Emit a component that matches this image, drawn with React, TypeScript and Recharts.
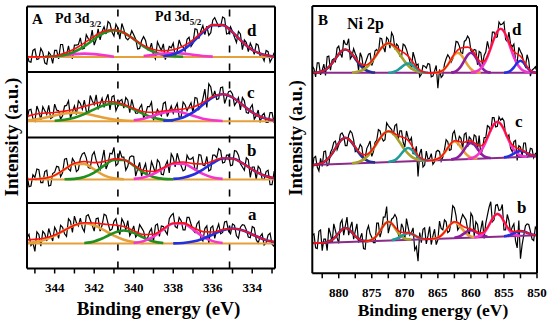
import React from 'react';
import { LineChart, Line, XAxis, YAxis, ReferenceLine } from 'recharts';

const FONT = '"Liberation Serif", "Times New Roman", serif';

// ---------------- Panel A : Pd 3d ----------------
const A_DOMAIN = [332.85, 345.4];
const A_TICKS = [345, 344, 343, 342, 341, 340, 339, 338, 337, 336, 335, 334, 333];
const A_RAW_FROM = 345.4;
const A_RAW_STEP = -0.2;
const A_FIT_FROM = 345.5;
const A_FIT_STEP = -0.5;
const A_DASHED = [340.8, 335.15];
const A_BASE_X = [345.4, 332.85];
const A_DIVIDERS = [1, 2, 3];

// subpanel d (offset 3)
const A_D_RAW = [.28,.15,.35,.20,.30,.12,.26,.33,.20,.42,.26,.23,.41,.42,.35,.57,.48,.41,.66,.62,.58,.74,.55,.67,.74,.52,.53,.57,.35,.48,.48,.34,.26,.46,.33,.19,.39,.44,.32,.40,.32,.53,.44,.65,.63,.57,.56,.79,.76,.70,.82,.59,.62,.45,.58,.49,.31,.37,.43,.24,.17,.31,.21,.32];
const A_D_RAW_MID = [.16,.33,.19,.36,.14,.30,.13,.33,.42,.24,.40,.21,.41,.52,.36,.51,.64,.50,.49,.69,.77,.61,.73,.50,.65,.49,.63,.50,.36,.54,.34,.44,.20,.39,.43,.28,.37,.24,.49,.38,.50,.39,.66,.51,.71,.70,.60,.83,.69,.84,.58,.69,.53,.62,.34,.45,.44,.27,.41,.24,.33,.15,.29];
const A_D_BASE = [0.23, 0.23];
const A_D_MAG1 = [.234,.257,.273,.28,.273,.257,.234];
const A_D_GREEN = [.233,.24,.261,.309,.392,.501,.60,.64,.60,.501,.392,.309,.261,.24,.233];
const A_D_MAG2 = [.245,.262,.281,.29,.281,.262,.245,.235];
const A_D_BLUE = [.241,.27,.338,.459,.608,.715,.715,.608,.459,.338,.27,.241,.232];
const A_D_FIT = [.23,.231,.233,.244,.288,.352,.442,.544,.627,.644,.60,.501,.407,.344,.323,.34,.392,.492,.623,.72,.715,.608,.459,.338,.27,.241,.232];

// subpanel c (offset 2)
const A_C_RAW = [.26,.43,.25,.40,.47,.35,.29,.51,.41,.33,.49,.30,.48,.56,.43,.40,.64,.50,.43,.60,.58,.42,.64,.48,.58,.61,.38,.46,.37,.50,.36,.47,.27,.43,.33,.54,.40,.37,.52,.31,.50,.47,.38,.60,.48,.74,.82,.60,.58,.76,.52,.70,.66,.54,.42,.56,.37,.50,.33,.23,.37,.23,.38,.19];
const A_C_RAW_MID = [.42,.29,.48,.27,.41,.49,.31,.42,.28,.48,.56,.39,.35,.52,.57,.38,.56,.65,.51,.46,.66,.62,.41,.56,.45,.57,.58,.37,.45,.30,.47,.54,.33,.37,.52,.32,.48,.45,.31,.54,.41,.53,.61,.43,.59,.46,.77,.71,.59,.77,.61,.71,.49,.61,.61,.38,.45,.28,.42,.34,.23,.38,.23];
const A_C_BASE = [0.25, 0.25];
const A_C_ORANGE = [.26,.275,.301,.336,.367,.38,.367,.336,.301,.275,.26,.253];
const A_C_GREEN = [.256,.271,.302,.357,.429,.494,.52,.494,.429,.357,.302,.271,.256];
const A_C_MAG = [.263,.287,.331,.379,.40,.379,.331,.287,.263,.253];
const A_C_BLUE = [.255,.268,.305,.383,.499,.612,.66,.612,.499,.383,.305,.268,.255];
const A_C_FIT = [.31,.355,.373,.382,.403,.432,.474,.515,.545,.545,.504,.445,.394,.383,.405,.424,.434,.464,.536,.625,.663,.612,.499,.383,.305,.268,.256];

// subpanel b (offset 1)
const A_B_RAW = [.44,.26,.39,.51,.31,.50,.27,.47,.55,.46,.68,.49,.63,.51,.75,.69,.53,.78,.57,.66,.52,.76,.85,.60,.70,.50,.70,.71,.52,.41,.60,.43,.55,.66,.44,.57,.46,.69,.76,.57,.51,.67,.70,.52,.73,.57,.49,.73,.69,.80,.62,.73,.58,.79,.60,.50,.66,.55,.36,.52,.36,.50,.28,.43];
const A_B_RAW_MID = [.25,.43,.52,.31,.48,.26,.45,.56,.40,.67,.52,.68,.48,.68,.77,.54,.73,.65,.51,.81,.60,.75,.57,.80,.70,.56,.72,.41,.62,.52,.41,.63,.45,.62,.43,.64,.75,.55,.65,.49,.73,.67,.51,.74,.58,.71,.51,.73,.83,.61,.73,.57,.80,.73,.55,.69,.39,.55,.56,.36,.48,.28,.47];
const A_B_BASE = [0.36, 0.36];
const A_B_ORANGE = [.363,.377,.422,.512,.597,.597,.512,.422,.377,.363];
const A_B_GREEN = [.362,.369,.397,.465,.57,.657,.657,.57,.465,.397,.369,.362];
const A_B_MAG = [.368,.39,.445,.53,.60,.60,.53,.445,.39,.368];
const A_B_BLUE = [.368,.386,.431,.511,.609,.68,.68,.609,.511,.431,.386,.368];
const A_B_FIT = [.36,.363,.377,.422,.514,.606,.634,.617,.632,.674,.66,.578,.495,.482,.539,.61,.626,.601,.596,.639,.688,.68,.609,.511,.431,.386,.368];

// subpanel a (offset 0)
const A_A_RAW = [.47,.35,.26,.52,.57,.42,.51,.63,.46,.63,.49,.72,.80,.65,.62,.80,.74,.57,.77,.66,.81,.58,.72,.60,.76,.59,.50,.65,.52,.62,.44,.56,.41,.68,.65,.57,.76,.84,.62,.73,.59,.78,.59,.68,.46,.61,.38,.65,.59,.53,.71,.57,.68,.50,.63,.66,.48,.64,.44,.49,.36,.51,.37,.46];
const A_A_RAW_MID = [.52,.39,.56,.34,.53,.61,.42,.57,.66,.53,.76,.55,.70,.77,.56,.82,.66,.76,.57,.83,.69,.60,.76,.52,.70,.73,.56,.48,.67,.57,.46,.61,.66,.49,.64,.52,.81,.64,.78,.59,.78,.68,.55,.72,.42,.65,.62,.46,.68,.55,.72,.53,.66,.46,.67,.59,.47,.62,.39,.53,.39,.54,.34];
const A_A_BASE = [0.38, 0.38];
const A_A_ORANGE = [.387,.404,.44,.502,.585,.66,.69,.66,.585,.502,.44,.404,.387];
const A_A_GREEN = [.389,.414,.472,.544,.58,.544,.472,.414,.389];
const A_A_MAG = [.39,.418,.488,.597,.687,.687,.597,.488,.418,.39];
const A_A_BLUE = [.383,.39,.411,.455,.52,.583,.61,.583,.52,.455,.411,.39];
const A_A_FIT = [.437,.444,.465,.512,.585,.66,.699,.694,.677,.666,.64,.578,.517,.522,.606,.69,.697,.628,.563,.558,.593,.61,.583,.52,.455,.411,.39];

// ---------------- Panel B : Ni 2p ----------------
const B_DOMAIN = [850, 884];
const B_TICKS = [882.5, 880, 877.5, 875, 872.5, 870, 867.5, 865, 862.5, 860, 857.5, 855, 852.5, 850];
const B_FROM = 884;
const B_STEP = -0.5;
const B_BASE_X = [884, 850];

// spectrum d (offset 2.5)
const B_D_RAW = [.60,.44,.65,.54,.46,.75,.69,.67,.90,.73,.93,1.01,.75,.79,.54,.73,.64,.78,.61,.83,.79,1.01,.81,1.00,1.10,.85,.90,.74,.91,.76,.55,.72,.63,.48,.60,.64,.44,.53,.27,.43,.63,.77,.66,.80,.96,.80,.97,1.05,.83,.85,.62,.80,.76,.97,.86,1.11,1.04,1.22,1.26,.97,.93,.93,.66,.82,.64,.77,.45,.56,.52];
const B_D_RAW_MID = [.56,.65,.47,.63,.74,.54,.71,.87,.79,.99,.92,.71,.86,.73,.80,.56,.71,.79,.68,.85,1.02,.89,1.03,.87,1.05,.93,.75,.93,.85,.68,.81,.61,.44,.61,.57,.63,.45,.61,.55,.46,.71,.73,.71,.97,.90,.79,.99,1.01,.81,.84,.82,.61,.81,.86,1.11,1.03,1.26,1.23,1.00,1.11,.89,.70,.88,.77,.59,.68,.54,.59];
const B_D_BASE = [0.5, 0.5];
const B_D_BLUE1 = [.501,.504,.51,.523,.547,.587,.644,.712,.78,.831,.85,.831,.78,.712,.644,.587,.547,.523,.51,.504];
const B_D_OLIVE = [.504,.509,.519,.537,.566,.61,.668,.737,.811,.877,.923,.94,.923,.877,.811,.737,.668,.61,.566,.537,.519,.509,.504];
const B_D_TEAL = [.502,.506,.519,.546,.585,.623,.64,.623,.585,.546,.519,.506,.502];
const B_D_ORANGE = [.502,.507,.523,.558,.619,.699,.771,.80,.771,.699,.619,.558,.523,.507,.502];
const B_D_PURPLE = [.503,.513,.541,.598,.682,.765,.80,.765,.682,.598,.541,.513,.503];
const B_D_MAG = [.504,.511,.529,.567,.634,.738,.872,1.012,1.119,1.16,1.119,1.012,.872,.738,.634,.567,.529,.511,.504];
const B_D_BLUE2 = [.501,.508,.531,.582,.648,.68,.648,.582,.531,.508,.501];
const B_D_FIT = [.501,.504,.51,.523,.547,.587,.644,.712,.78,.831,.85,.831,.784,.721,.663,.624,.613,.633,.678,.741,.811,.877,.923,.942,.929,.896,.857,.822,.791,.75,.689,.622,.565,.528,.51,.502,.50,.502,.507,.523,.558,.619,.702,.784,.841,.871,.881,.885,.862,.799,.718,.667,.675,.751,.875,1.012,1.119,1.16,1.12,1.02,.903,.82,.782,.747,.677,.593,.535,.508,.501];

// spectrum c (offset 1.2)
const B_C_RAW = [.34,.55,.33,.40,.63,.43,.66,.78,.72,.90,.71,.87,.90,.62,.65,.69,.53,.72,.55,.76,.95,.83,.80,1.01,.95,1.01,.80,.93,.69,.83,.83,.59,.25,.66,.42,.51,.59,.47,.64,.48,.65,.77,.65,.93,.74,.82,.88,.69,.81,.87,.66,.57,.83,1.01,.92,1.13,1.00,1.09,1.08,.83,.67,.77,.49,.69,.75,.54,.67,.53,.61];
const B_C_RAW_MID = [.53,.39,.52,.62,.41,.61,.76,.65,.88,.85,.71,.93,.80,.64,.73,.50,.67,.78,.62,.79,.93,.78,1.05,.98,.87,1.03,.93,.76,.93,.78,.59,.70,.59,.39,.63,.52,.43,.62,.62,.54,.80,.64,.89,.80,.85,.66,.90,.84,.72,.85,.86,.65,.83,.99,1.13,.99,1.14,1.12,.87,.87,.62,.79,.71,.56,.75,.55,.66,.59];
const B_C_BASE = [0.42, 0.55];
const B_C_BLUE1 = [.422,.426,.435,.452,.481,.527,.591,.670,.747,.806,.829,.81,.755,.682,.607,.546,.504,.478,.465,.46];
const B_C_OLIVE = [.447,.455,.467,.488,.52,.567,.629,.704,.783,.854,.905,.924,.909,.862,.795,.72,.648,.59,.546,.518,.501,.493,.489];
const B_C_TEAL = [.466,.475,.495,.535,.593,.649,.675,.653,.60,.546,.51,.494,.489];
const B_C_ORANGE = [.491,.497,.514,.546,.603,.677,.744,.772,.748,.685,.615,.562,.533,.52,.518];
const B_C_PURPLE = [.503,.513,.536,.584,.654,.722,.752,.726,.662,.595,.551,.532,.526];
const B_C_MAG = [.513,.521,.538,.571,.627,.713,.825,.942,1.032,1.067,1.036,.95,.837,.729,.647,.593,.564,.551,.547];
const B_C_BLUE2 = [.535,.545,.564,.592,.617,.63,.621,.599,.575,.56,.554];
const B_C_FIT = [.422,.426,.435,.452,.481,.527,.591,.670,.747,.806,.829,.81,.759,.692,.627,.585,.573,.593,.64,.708,.785,.854,.905,.926,.918,.889,.86,.841,.824,.79,.722,.639,.566,.52,.498,.489,.491,.497,.514,.546,.603,.677,.747,.783,.78,.763,.761,.777,.782,.756,.719,.705,.745,.836,.945,1.032,1.067,1.036,.954,.849,.758,.702,.672,.654,.63,.602,.575,.56,.554];

// spectrum b (offset 0)
const B_B_RAW = [.57,.38,.63,.34,.51,.68,.46,.64,.45,.80,.71,.57,.77,.63,.46,.60,.36,.71,.54,.46,.75,.64,.84,.60,.81,.88,.59,.74,.51,.69,.61,.35,.18,.46,.68,.56,.43,.66,.50,.67,.80,.61,.77,.98,.65,.80,.84,.66,.90,.56,.73,.66,.52,.87,1.07,.80,1.03,.95,.65,.88,.61,.74,.38,.22,.57,.74,.63,.49,.65];
const B_B_RAW_MID = [.59,.37,.65,.51,.34,.59,.74,.53,.75,.57,.84,.69,.51,.74,.53,.37,.64,.59,.46,.75,.54,.84,1.00,.71,.83,.83,.52,.68,.82,.57,.68,.40,.61,.66,.44,.70,.56,.43,.78,.65,.77,.63,1.01,.86,.69,.88,.80,.55,.85,.77,.55,.79,.75,.99,.77,1.02,.94,1.03,.65,.79,.69,.49,.79,.43,.71,.73,.51,.69];
const B_B_BASE = [0.45, 0.57];
const B_B_BLUE1 = [.456,.462,.475,.501,.545,.603,.655,.678,.658,.61,.556,.515,.492,.483,.481];
const B_B_OLIVE = [.48,.487,.503,.538,.596,.672,.742,.771,.745,.679,.607,.552,.52,.508,.505];
const B_B_TEAL = [.496,.508,.529,.559,.587,.601,.591,.566,.539,.522,.514];
const B_B_ORANGE = [.515,.521,.535,.565,.616,.681,.74,.766,.744,.688,.626,.579,.553,.542,.539];
const B_B_PURPLE = [.531,.543,.565,.598,.63,.645,.633,.605,.576,.557,.549];
const B_B_MAG = [.538,.546,.566,.607,.678,.77,.854,.889,.858,.777,.688,.621,.584,.567,.563];
const B_B_BLUE2 = [.555,.563,.579,.60,.621,.631,.625,.607,.589,.577,.573];
const B_B_FIT = [.45,.452,.454,.456,.462,.475,.501,.545,.603,.655,.678,.658,.61,.556,.515,.492,.485,.488,.503,.538,.596,.672,.742,.771,.749,.693,.64,.613,.608,.608,.593,.566,.539,.522,.514,.512,.515,.521,.535,.565,.616,.681,.74,.771,.759,.724,.693,.676,.663,.641,.614,.602,.622,.683,.77,.854,.889,.858,.78,.697,.644,.626,.629,.633,.625,.607,.589,.577,.573];

// ---------------- colours ----------------
const C = {
  raw: '#000000', red: '#ff1010', green: '#1f8f1f', orange: '#e5a03a', magenta: '#f535cf',
  blue: '#2230e0', navy: '#23308f', olive: '#a8a02a', teal: '#1f9c9c', purple: '#8c1f9c',
  baseB: '#8a2a8a',
};

type Pt = { x: number; y: number };
const rx = (v: number) => Math.round(v * 100) / 100;
const pts = (from: number, step: number, vals: number[], off: number): Pt[] =>
  vals.map((v, i) => ({ x: rx(from + step * i), y: v + off }));
const twoPts = (xs: number[], ys: number[], off: number): Pt[] => xs.map((x, i) => ({ x, y: ys[i] + off }));
// raw spectrum: main samples plus the in-between samples
const rawPts = (from: number, step: number, main: number[], mid: number[], off: number): Pt[] => {
  const out: Pt[] = [];
  main.forEach((v, i) => {
    out.push({ x: rx(from + step * i), y: v + off });
    if (i < mid.length) out.push({ x: rx(from + step * i + step / 2), y: mid[i] + off });
  });
  return out;
};

type Spec = { id: string; data: Pt[]; color: string; w: number; smooth: boolean };
type Comp = [number, number[], string];

function aPanel(id: string, off: number, raw: number[], mid: number[], base: number[], comps: Comp[], fit: number[]): Spec[] {
  const out: Spec[] = [];
  out.push({ id: id + 'raw', data: rawPts(A_RAW_FROM, A_RAW_STEP, raw, mid, off), color: C.raw, w: 1.2, smooth: false });
  out.push({ id: id + 'base', data: twoPts(A_BASE_X, base, off), color: C.orange, w: 2, smooth: false });
  comps.forEach(([from, vals, color], k) =>
    out.push({ id: id + 'c' + k, data: pts(from, A_FIT_STEP, vals, off), color, w: 2.6, smooth: true }));
  out.push({ id: id + 'fit', data: pts(A_FIT_FROM, A_FIT_STEP, fit, off), color: C.red, w: 1.6, smooth: true });
  return out;
}

function bPanel(id: string, off: number, raw: number[], mid: number[], base: number[], comps: Comp[], fit: number[]): Spec[] {
  const out: Spec[] = [];
  out.push({ id: id + 'raw', data: rawPts(B_FROM, B_STEP, raw, mid, off), color: C.raw, w: 1.2, smooth: false });
  out.push({ id: id + 'base', data: twoPts(B_BASE_X, base, off), color: C.baseB, w: 2, smooth: false });
  comps.forEach(([from, vals, color], k) =>
    out.push({ id: id + 'c' + k, data: pts(from, B_STEP, vals, off), color, w: 2.6, smooth: true }));
  out.push({ id: id + 'fit', data: pts(B_FROM, B_STEP, fit, off), color: C.red, w: 1.6, smooth: true });
  return out;
}

const A_SERIES: Spec[] = [
  ...aPanel('d', 3, A_D_RAW, A_D_RAW_MID, A_D_BASE, [[344, A_D_MAG1, C.magenta], [344.5, A_D_GREEN, C.green], [339.5, A_D_MAG2, C.magenta], [338.5, A_D_BLUE, C.blue]], A_D_FIT),
  ...aPanel('c', 2, A_C_RAW, A_C_RAW_MID, A_C_BASE, [[345.5, A_C_ORANGE, C.orange], [344, A_C_GREEN, C.green], [340, A_C_MAG, C.magenta], [338.5, A_C_BLUE, C.blue]], A_C_FIT),
  ...aPanel('b', 1, A_B_RAW, A_B_RAW_MID, A_B_BASE, [[345, A_B_ORANGE, C.orange], [343.5, A_B_GREEN, C.green], [340, A_B_MAG, C.magenta], [338, A_B_BLUE, C.blue]], A_B_FIT),
  ...aPanel('a', 0, A_A_RAW, A_A_RAW_MID, A_A_BASE, [[345.5, A_A_ORANGE, C.orange], [342.5, A_A_GREEN, C.green], [340, A_A_MAG, C.magenta], [338, A_A_BLUE, C.blue]], A_A_FIT),
];

const B_SERIES: Spec[] = [
  ...bPanel('d', 2.5, B_D_RAW, B_D_RAW_MID, B_D_BASE, [[884, B_D_BLUE1, C.navy], [878, B_D_OLIVE, C.olive], [872.5, B_D_TEAL, C.teal], [865.5, B_D_ORANGE, C.orange], [863, B_D_PURPLE, C.purple], [860, B_D_MAG, C.magenta], [855, B_D_BLUE2, C.blue]], B_D_FIT),
  ...bPanel('c', 1.2, B_C_RAW, B_C_RAW_MID, B_C_BASE, [[884, B_C_BLUE1, C.navy], [878, B_C_OLIVE, C.olive], [872.5, B_C_TEAL, C.teal], [866, B_C_ORANGE, C.orange], [863, B_C_PURPLE, C.purple], [860.5, B_C_MAG, C.magenta], [855, B_C_BLUE2, C.blue]], B_C_FIT),
  ...bPanel('b', 0, B_B_RAW, B_B_RAW_MID, B_B_BASE, [[882.5, B_B_BLUE1, C.navy], [876, B_B_OLIVE, C.olive], [872, B_B_TEAL, C.teal], [866, B_B_ORANGE, C.orange], [862.5, B_B_PURPLE, C.purple], [859.5, B_B_MAG, C.magenta], [855, B_B_BLUE2, C.blue]], B_B_FIT),
];

const tickStyle = { fill: '#000', fontSize: 13, fontFamily: FONT, fontWeight: 'bold' as const };
const frame = { stroke: '#000', strokeWidth: 2 };

function renderLines(specs: Spec[]) {
  return specs.map((s) => (
    <Line key={s.id} data={s.data} dataKey="y" type={s.smooth ? 'monotone' : 'linear'} stroke={s.color}
      strokeWidth={s.w} dot={false} activeDot={false} isAnimationActive={false} connectNulls />
  ));
}

export default function App() {
  return (
    <div style={{ position: 'absolute', left: 0, top: 0, width: 550, height: 321, background: '#fff', overflow: 'hidden' }}>
      <div style={{ position: 'absolute', left: 0, top: 0 }}>
        <LineChart width={282} height={321} margin={{ top: 6.5, right: 7, left: 26, bottom: 32.5 }}>
          <XAxis type="number" dataKey="x" domain={A_DOMAIN} reversed allowDataOverflow ticks={A_TICKS}
            interval={0} tickFormatter={(v: number) => (v % 2 === 0 ? String(v) : '')}
            tick={tickStyle} tickLine={{ stroke: '#000', strokeWidth: 1.5 }} tickSize={5} tickMargin={9}
            axisLine={frame} height={20} />
          <YAxis type="number" domain={[0, 4]} allowDataOverflow tick={false} tickLine={false} axisLine={false} width={1} />
          {A_DASHED.map((x) => (
            <ReferenceLine key={'dash' + x} x={x} stroke="#000" strokeWidth={1.6} strokeDasharray="7 11" />
          ))}
          {renderLines(A_SERIES)}
          {A_DIVIDERS.map((y) => (
            <ReferenceLine key={'div' + y} y={y} stroke="#000" strokeWidth={2} />
          ))}
          <ReferenceLine y={4} stroke="#000" strokeWidth={2} />
          <ReferenceLine x={A_DOMAIN[0]} stroke="#000" strokeWidth={2} />
          <ReferenceLine x={A_DOMAIN[1]} stroke="#000" strokeWidth={2} />
        </LineChart>
      </div>
      <div style={{ position: 'absolute', left: 280, top: 0 }}>
        <LineChart width={270} height={321} margin={{ top: 6, right: 13, left: 31.3, bottom: 27.7 }}>
          <XAxis type="number" dataKey="x" domain={B_DOMAIN} reversed allowDataOverflow ticks={B_TICKS}
            interval={0} tickFormatter={(v: number) => (v % 5 === 0 ? String(v) : '')}
            tick={tickStyle} tickLine={{ stroke: '#000', strokeWidth: 1.5 }} tickSize={5} tickMargin={9}
            axisLine={frame} height={20} />
          <YAxis type="number" domain={[0, 4]} allowDataOverflow tick={false} tickLine={false} axisLine={false} width={1} />
          {renderLines(B_SERIES)}
          <ReferenceLine y={4} stroke="#000" strokeWidth={2} />
          <ReferenceLine x={B_DOMAIN[0]} stroke="#000" strokeWidth={2} />
          <ReferenceLine x={B_DOMAIN[1]} stroke="#000" strokeWidth={2} />
        </LineChart>
      </div>
      <svg width={550} height={321} style={{ position: 'absolute', left: 0, top: 0, pointerEvents: 'none' }}
        fontFamily={FONT} fontWeight="bold" fill="#000">
        <text x={32} y={23.5} fontSize={15}>A</text>
        <text x={55} y={22.5} fontSize={14}>Pd 3d<tspan fontSize={9} dy={4}>3/2</tspan></text>
        <text x={155} y={21} fontSize={14}>Pd 3d<tspan fontSize={9} dy={4}>5/2</tspan></text>
        <text x={247} y={36} fontSize={17}>d</text>
        <text x={247} y={98} fontSize={17}>c</text>
        <text x={247} y={156} fontSize={17}>b</text>
        <text x={248} y={220} fontSize={17}>a</text>
        <text transform="translate(18,137) rotate(-90)" textAnchor="middle" fontSize={19}>Intensity (a.u.)</text>
        <text x={158.5} y={315} textAnchor="middle" fontSize={19}>Binding energy (eV)</text>

        <text x={318} y={25} fontSize={15}>B</text>
        <text x={347} y={29} fontSize={16}>Ni 2p</text>
        <text x={512} y={35} fontSize={17}>d</text>
        <text x={515} y={127} fontSize={17}>c</text>
        <text x={517} y={213} fontSize={17}>b</text>
        <text transform="translate(302,138) rotate(-90)" textAnchor="middle" fontSize={18.5}>Intensity (a.u.)</text>
        <text x={433} y={315.5} textAnchor="middle" fontSize={17.5}>Binding energy (eV)</text>
      </svg>
    </div>
  );
}
